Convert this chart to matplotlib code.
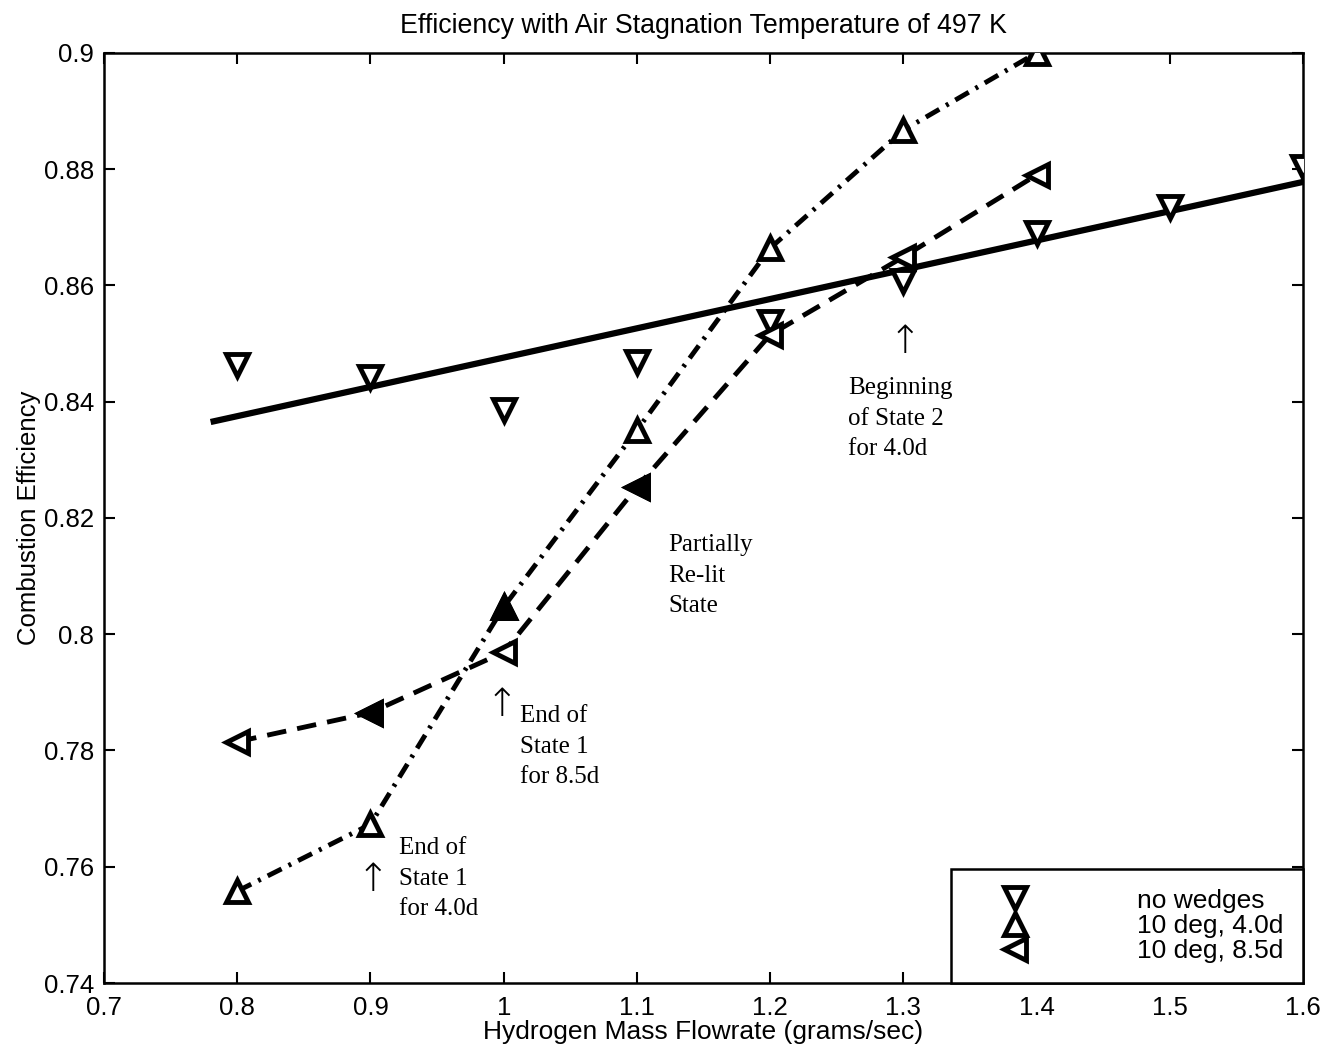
import matplotlib
matplotlib.use("Agg")
import matplotlib.pyplot as plt
from matplotlib.lines import Line2D

# ---- data ----
x_none = [0.8, 0.9, 1.0, 1.1, 1.2, 1.3, 1.4, 1.5, 1.6]
y_none = [0.8463, 0.8442, 0.8386, 0.8468, 0.8537, 0.8607, 0.8690, 0.8735, 0.8804]

fit_x = [0.78, 1.6]
fit_y = [0.8365, 0.8778]

x_40 = [0.8, 0.9, 1.0, 1.1, 1.2, 1.3, 1.4]
y_40 = [0.7558, 0.7673, 0.8047, 0.8351, 0.8664, 0.8867, 0.9000]

x_85 = [0.8, 0.9, 1.0, 1.1, 1.2, 1.3, 1.4]
y_85 = [0.7815, 0.7865, 0.7969, 0.8253, 0.8515, 0.8649, 0.8790]

legend_labels = ["no wedges", "10 deg, 4.0d", "10 deg, 8.5d"]
xticks = [0.7, 0.8, 0.9, 1.0, 1.1, 1.2, 1.3, 1.4, 1.5, 1.6]
xticklabels = ["0.7", "0.8", "0.9", "1", "1.1", "1.2", "1.3", "1.4", "1.5", "1.6"]
yticks = [0.74, 0.76, 0.78, 0.80, 0.82, 0.84, 0.86, 0.88, 0.90]
yticklabels = ["0.74", "0.76", "0.78", "0.8", "0.82", "0.84", "0.86", "0.88", "0.9"]

# markers that appear solid (ink-filled) in the original
filled_40 = [2]
filled_85 = [1, 3]

plt.rcParams['font.family'] = ['Liberation Sans', 'DejaVu Sans']

fig = plt.figure(figsize=(13.34, 10.57), dpi=100)
ax = fig.add_axes([0.078, 0.070, 0.8988, 0.880])

mk = dict(markersize=16, markeredgewidth=3.5, markerfacecolor='white',
          markeredgecolor='black', color='black', linestyle='none', zorder=4)

# lines
ax.plot(fit_x, fit_y, color='black', lw=4.5, solid_capstyle='butt', zorder=3)
ax.plot(x_40, y_40, color='black', lw=3.5, linestyle=(0, (3.2, 1.6, 0.6, 1.6)), zorder=3)
ax.plot(x_85, y_85, color='black', lw=3.5, linestyle=(0, (4, 2.3)), zorder=3)

# markers
ax.plot(x_none, y_none, marker='v', **mk)
ax.plot(x_40, y_40, marker='^', **mk)
ax.plot(x_85, y_85, marker='<', **mk)
mkf = dict(mk, markerfacecolor='black')
ax.plot([x_40[i] for i in filled_40], [y_40[i] for i in filled_40], marker='^', **mkf)
ax.plot([x_85[i] for i in filled_85], [y_85[i] for i in filled_85], marker='<', **mkf)

ax.set_xlim(0.7, 1.6)
ax.set_ylim(0.74, 0.9)
ax.set_xticks(xticks)
ax.set_xticklabels(xticklabels)
ax.set_yticks(yticks)
ax.set_yticklabels(yticklabels)
ax.tick_params(direction='in', length=8, width=1.5, labelsize=18.5,
               top=True, right=True)
ax.tick_params(axis='y', pad=7)
ax.tick_params(axis='x', pad=9)
for s in ax.spines.values():
    s.set_linewidth(1.8)

ax.set_title("Efficiency with Air Stagnation Temperature of 497 K", fontsize=19.3, pad=14)
ax.set_xlabel("Hydrogen Mass Flowrate (grams/sec)", fontsize=19, labelpad=0)
ax.set_ylabel("Combustion Efficiency", fontsize=18.5, labelpad=2.5)

serif = dict(family=['Liberation Serif', 'DejaVu Serif'], fontsize=18, va='top',
             ha='left', linespacing=1.5)
arrow = dict(family=['DejaVu Sans'], fontsize=28, fontweight='light',
             ha='center', va='center')
ax.text(1.3008, 0.8503, "\u2191", **arrow)
ax.text(1.2586, 0.8442, "Beginning\nof State 2\nfor 4.0d", **serif)
ax.text(1.1234, 0.8172, "Partially\nRe-lit\nState", **serif)
ax.text(0.9988, 0.7879, "\u2191", **arrow)
ax.text(1.0123, 0.7878, "End of\nState 1\nfor 8.5d", **serif)
ax.text(0.902, 0.7577, "\u2191", **arrow)
ax.text(0.9215, 0.7651, "End of\nState 1\nfor 4.0d", **serif)

handles = [Line2D([], [], marker=m, **mk) for m in ['v', '^', '<']]
leg = ax.legend(handles, legend_labels, loc='lower right', fontsize=19,
                frameon=True, fancybox=False, edgecolor='black', framealpha=1,
                borderaxespad=0, borderpad=0.75, handlelength=3.4,
                handletextpad=2.9, labelspacing=0.05)
leg.get_frame().set_linewidth(1.8)

fig.savefig("out.png", dpi=100)
